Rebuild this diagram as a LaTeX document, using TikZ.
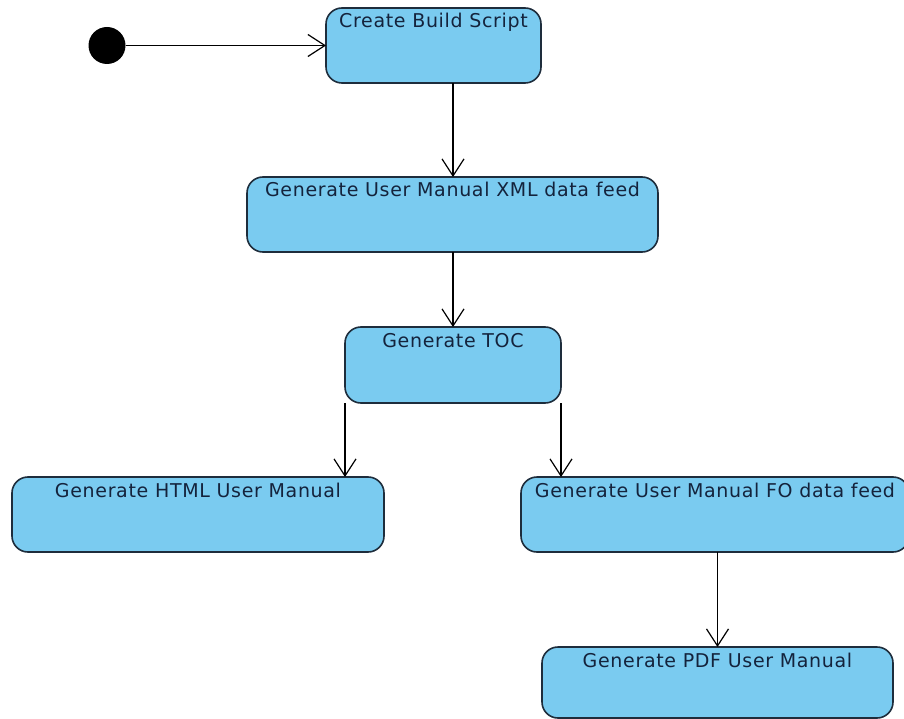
\documentclass[tikz,border=0pt]{standalone}
\usepackage{fontspec}
\setmainfont{DejaVu Sans}[LetterSpace=3.5]
\usetikzlibrary{arrows.meta,calc}
\definecolor{boxfill}{RGB}{122,203,240}
\definecolor{boxline}{RGB}{30,45,60}
\definecolor{boxtext}{RGB}{20,35,60}
\tikzset{
  act/.style={draw=boxline, fill=boxfill, line width=1.6pt, rounded corners=16pt,
    anchor=north west, inner sep=0pt, outer sep=0pt},
  lbl/.style={anchor=base, yshift=-20pt, inner sep=0pt, text=boxtext,
    font=\fontsize{19pt}{22pt}\selectfont},
  flow/.style={draw=black, line width=1.2pt, -{Straight Barb[length=17pt,width=22pt]}},
}
\begin{document}
\begin{tikzpicture}[x=1pt,y=-1pt]
\useasboundingbox (0,0) rectangle (904,719);
\fill[white] (0,0) rectangle (904,719);
\clip (0,0) rectangle (904,719);
\node[act, minimum width=215pt, minimum height=75pt,
  label={[lbl]north:Create Build Script}] (b1) at (326,8) {};
\node[act, minimum width=411pt, minimum height=75pt,
  label={[lbl]north:Generate User Manual XML data feed}] (b2) at (247,177) {};
\node[act, minimum width=216pt, minimum height=76pt,
  label={[lbl]north:Generate TOC}] (b3) at (345,327) {};
\node[act, minimum width=372pt, minimum height=75pt,
  label={[lbl]north:Generate HTML User Manual}] (html) at (12,477) {};
\node[act, minimum width=388pt, minimum height=75pt,
  label={[lbl]north:Generate User Manual FO data feed}] (fo) at (521,477) {};
\node[act, minimum width=351pt, minimum height=71pt,
  label={[lbl]north:Generate PDF User Manual}] (pdf) at (542,647) {};
\node[circle, fill=black, minimum size=37pt, inner sep=0pt] (start) at (107,45.5) {};
\draw[flow] (start) -- (b1.west);
\draw[flow] (b3.north |- b1.south) -- (b3.north |- b2.north);
\draw[flow] (b3.north |- b2.south) -- (b3.north);
\draw[flow] (b3.south west) -- (b3.south west |- html.north);
\draw[flow] (b3.south east) -- (b3.south east |- fo.north);
\draw[flow] (pdf.north |- fo.south) -- (pdf.north);
\end{tikzpicture}
\end{document}
